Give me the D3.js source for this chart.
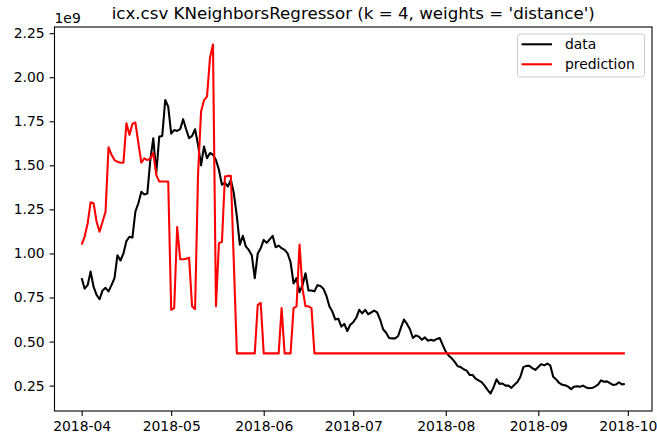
<!DOCTYPE html>
<html>
<head>
<meta charset="utf-8">
<script src="https://cdn.jsdelivr.net/npm/d3@7"></script>
<style>
  html, body { margin: 0; padding: 0; background: #fff; }
  svg { display: block; }
  text { font-family: "DejaVu Sans", sans-serif; fill: #000; }
</style>
</head>
<body>
<svg id="chart" width="657" height="435"></svg>
<script>
// ---- data (values in units of 1e9) ----
const startDate = "2018-04-01";
const seriesNames = ["data", "prediction"];
const dataValues = [
  0.86,0.80,0.82,0.897,0.81,0.765,0.74,0.79,0.805,0.785,
  0.82,0.86,0.99,0.96,1.00,1.07,1.095,1.09,1.237,1.285,
  1.35,1.335,1.34,1.53,1.654,1.455,1.663,1.667,1.871,1.833,
  1.68,1.70,1.695,1.705,1.762,1.705,1.654,1.667,1.705,1.616,
  1.50,1.607,1.54,1.57,1.56,1.53,1.474,1.39,1.40,1.38,
  1.417,1.34,1.21,1.05,1.10,1.04,1.02,0.99,0.86,1.00,
  1.03,1.077,1.06,1.08,1.10,1.035,1.045,1.03,1.02,1.00,
  0.95,0.83,0.86,0.78,0.82,0.888,0.79,0.79,0.785,0.82,
  0.815,0.80,0.76,0.70,0.67,0.625,0.63,0.585,0.60,0.56,
  0.595,0.61,0.635,0.68,0.66,0.68,0.655,0.665,0.676,0.665,
  0.625,0.57,0.55,0.52,0.518,0.518,0.53,0.58,0.625,0.60,
  0.57,0.52,0.535,0.528,0.51,0.524,0.505,0.51,0.505,0.515,
  0.52,0.48,0.443,0.42,0.405,0.385,0.36,0.355,0.343,0.335,
  0.311,0.31,0.29,0.28,0.27,0.25,0.226,0.205,0.24,0.286,
  0.26,0.262,0.25,0.25,0.237,0.255,0.27,0.30,0.355,0.362,
  0.362,0.349,0.339,0.356,0.372,0.365,0.375,0.365,0.30,0.285,
  0.265,0.255,0.252,0.244,0.23,0.244,0.246,0.244,0.25,0.24,
  0.235,0.236,0.244,0.255,0.28,0.272,0.274,0.264,0.254,0.256,
  0.269,0.257,0.259
];
const predValues = [
  1.05,1.096,1.17,1.29,1.285,1.18,1.124,1.18,1.237,1.603,
  1.56,1.53,1.52,1.515,1.515,1.739,1.673,1.735,1.743,1.626,
  1.515,1.54,1.53,1.54,1.57,1.446,1.408,1.408,1.408,1.408,
  0.68,0.69,1.15,0.967,0.967,0.97,0.975,0.70,0.684,1.45,
  1.805,1.87,1.89,2.11,2.186,0.70,1.06,1.065,1.436,1.44,
  1.44,0.94,0.433,0.433,0.433,0.433,0.433,0.433,0.433,0.708,
  0.72,0.433,0.433,0.433,0.433,0.433,0.433,0.69,0.433,0.433,
  0.433,0.69,0.70,1.05,0.80,0.70,0.70,0.69,0.433,0.433,
  0.433,0.433,0.433,0.433,0.433,0.433,0.433,0.433,0.433,0.433,
  0.433,0.433,0.433,0.433,0.433,0.433,0.433,0.433,0.433,0.433,
  0.433,0.433,0.433,0.433,0.433,0.433,0.433,0.433,0.433,0.433,
  0.433,0.433,0.433,0.433,0.433,0.433,0.433,0.433,0.433,0.433,
  0.433,0.433,0.433,0.433,0.433,0.433,0.433,0.433,0.433,0.433,
  0.433,0.433,0.433,0.433,0.433,0.433,0.433,0.433,0.433,0.433,
  0.433,0.433,0.433,0.433,0.433,0.433,0.433,0.433,0.433,0.433,
  0.433,0.433,0.433,0.433,0.433,0.433,0.433,0.433,0.433,0.433,
  0.433,0.433,0.433,0.433,0.433,0.433,0.433,0.433,0.433,0.433,
  0.433,0.433,0.433,0.433,0.433,0.433,0.433,0.433,0.433,0.433,
  0.433,0.433,0.433
];
const xTickLabels = ["2018-04","2018-05","2018-06","2018-07","2018-08","2018-09","2018-10"];
const yTickValues = [0.25,0.50,0.75,1.00,1.25,1.50,1.75,2.00,2.25];
const titleText = "icx.csv KNeighborsRegressor (k = 4, weights = 'distance')";
const offsetText = "1e9";

// ---- layout ----
const W = 657, H = 435;
const plot = { left: 54.5, right: 652, top: 27, bottom: 411 };
const tickFont = 13.9, titleFont = 16.67;
const colors = ["#000000", "#ff0000"];

const svg = d3.select("#chart");
const parse = d3.utcParse("%Y-%m-%d");
const t0 = parse(startDate);
const dates = dataValues.map((_, i) => d3.utcDay.offset(t0, i));

// matplotlib-style 5% margins
const xExt = d3.extent(dates);
const xPad = (xExt[1] - xExt[0]) * 0.05;
const x = d3.scaleUtc()
  .domain([new Date(+xExt[0] - xPad), new Date(+xExt[1] + xPad)])
  .range([plot.left, plot.right]);

const allVals = dataValues.concat(predValues);
const yExt = d3.extent(allVals);
const yPad = (yExt[1] - yExt[0]) * 0.05;
const y = d3.scaleLinear()
  .domain([yExt[0] - yPad, yExt[1] + yPad])
  .range([plot.bottom, plot.top]);

// clip
svg.append("defs").append("clipPath").attr("id", "clip")
  .append("rect")
  .attr("x", plot.left).attr("y", plot.top)
  .attr("width", plot.right - plot.left).attr("height", plot.bottom - plot.top);

// lines
const line = d3.line()
  .x((d, i) => x(dates[i]))
  .y(d => y(d));

const gLines = svg.append("g").attr("clip-path", "url(#clip)");
[dataValues, predValues].forEach((vals, k) => {
  gLines.append("path")
    .datum(vals)
    .attr("d", line)
    .attr("fill", "none")
    .attr("stroke", colors[k])
    .attr("stroke-width", 2.08)
    .attr("stroke-linejoin", "round")
    .attr("stroke-linecap", "butt");
});

// axes
const xTicks = xTickLabels.map(s => parse(s + "-01"));
const xAxis = d3.axisBottom(x)
  .tickValues(xTicks)
  .tickFormat(d3.utcFormat("%Y-%m"))
  .tickSize(4.9).tickPadding(4.9);
const gx = svg.append("g")
  .attr("transform", `translate(0,${plot.bottom})`)
  .call(xAxis);
gx.select(".domain").remove();
gx.selectAll("line").attr("stroke", "#000").attr("stroke-width", 1.1);
gx.selectAll("text")
  .attr("font-size", tickFont)
  .attr("font-family", "DejaVu Sans")
  .attr("fill", "#000");

const yAxis = d3.axisLeft(y)
  .tickValues(yTickValues)
  .tickFormat(d3.format(".2f"))
  .tickSize(4.9).tickPadding(4.9);
const gy = svg.append("g")
  .attr("transform", `translate(${plot.left},0)`)
  .call(yAxis);
gy.select(".domain").remove();
gy.selectAll("line").attr("stroke", "#000").attr("stroke-width", 1.1);
gy.selectAll("text")
  .attr("font-size", tickFont)
  .attr("font-family", "DejaVu Sans")
  .attr("fill", "#000");

// spines
svg.append("rect")
  .attr("x", plot.left).attr("y", plot.top)
  .attr("width", plot.right - plot.left).attr("height", plot.bottom - plot.top)
  .attr("fill", "none").attr("stroke", "#000").attr("stroke-width", 1.1);

// offset text
svg.append("text")
  .attr("x", plot.left).attr("y", plot.top - 4)
  .attr("font-size", tickFont)
  .text(offsetText);

// title
svg.append("text")
  .attr("x", (plot.left + plot.right) / 2).attr("y", plot.top - 8.3)
  .attr("text-anchor", "middle")
  .attr("font-size", titleFont)
  .text(titleText);

// legend
const lg = { w: 127, h: 43 };
const lgX = plot.right - 7.5 - lg.w, lgY = plot.top + 7;
const gl = svg.append("g");
gl.append("rect")
  .attr("x", lgX).attr("y", lgY).attr("width", lg.w).attr("height", lg.h)
  .attr("rx", 2.8)
  .attr("fill", "#fff").attr("fill-opacity", 0.8)
  .attr("stroke", "#cccccc").attr("stroke-width", 1);
seriesNames.forEach((name, k) => {
  const cy = lgY + 10.3 + k * 20;
  gl.append("line")
    .attr("x1", lgX + 4).attr("x2", lgX + 34.5)
    .attr("y1", cy).attr("y2", cy)
    .attr("stroke", colors[k]).attr("stroke-width", 2.08);
  gl.append("text")
    .attr("x", lgX + 47.5).attr("y", cy + 4.8)
    .attr("font-size", tickFont)
    .text(name);
});
</script>
</body>
</html>
